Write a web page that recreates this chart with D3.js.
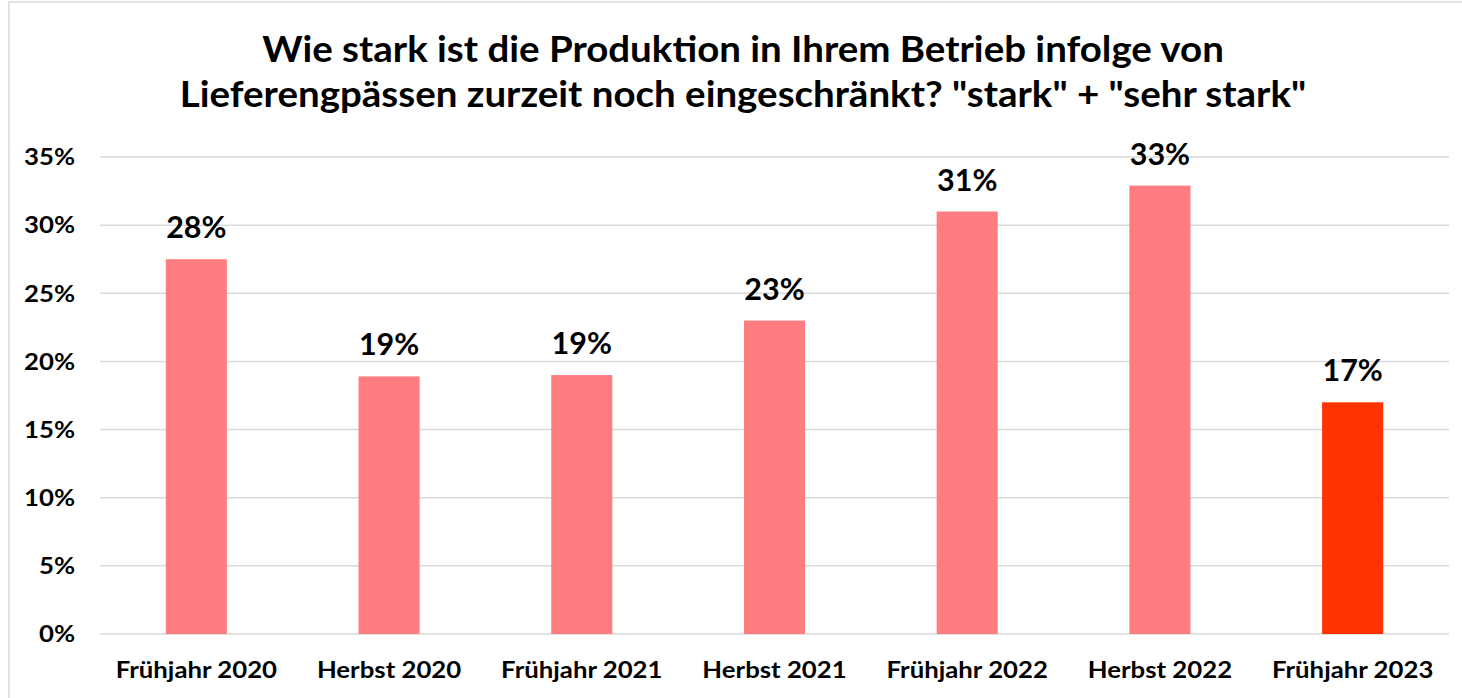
<!DOCTYPE html>
<html>
<head>
<meta charset="utf-8">
<script src="https://cdn.jsdelivr.net/npm/d3@7"></script>
<style>
  html, body { margin: 0; padding: 0; background: #fff; }
  svg { display: block; font-family: Lato, "Open Sans", sans-serif; }
</style>
</head>
<body>
<div id="chart"></div>
<script>
// survey waves and share answering "stark" + "sehr stark"
const categories = ['Frühjahr 2020', 'Herbst 2020', 'Frühjahr 2021', 'Herbst 2021',
  'Frühjahr 2022', 'Herbst 2022', 'Frühjahr 2023'];
const values = [27.5, 18.9, 19.0, 23.0, 31.0, 32.9, 17.0];
const valueLabels = ['28%', '19%', '19%', '23%', '31%', '33%', '17%'];
const yTicks = [0, 5, 10, 15, 20, 25, 30, 35];
const titleLines = [
  'Wie stark ist die Produktion in Ihrem Betrieb infolge von',
  'Lieferengpässen zurzeit noch eingeschränkt? "stark" + "sehr stark"',
];

const width = 1462;
const height = 698;
const margin = { top: 157, right: 13, bottom: 64, left: 100 };

const svg = d3.select('#chart').append('svg')
  .attr('width', width)
  .attr('height', height);

// the source font (Calibri) runs a bit wider than Lato, so stretch text horizontally
const place = (px, py, sx) => `translate(${px},${py}) scale(${sx},1)`;

// light frame of the chart area (only top/left edges are visible)
svg.append('rect')
  .attr('x', 9).attr('y', 2)
  .attr('width', width + 20).attr('height', height + 20)
  .attr('fill', 'none')
  .attr('stroke', '#d9d9d9')
  .attr('stroke-width', 1.5);

const x = d3.scaleBand()
  .domain(categories)
  .range([margin.left, width - margin.right])
  .paddingInner(0.683)
  .paddingOuter(0.3415);

const y = d3.scaleLinear()
  .domain([0, 35])
  .range([height - margin.bottom, margin.top]);

// gridlines
svg.append('g')
  .selectAll('line')
  .data(yTicks)
  .join('line')
  .attr('x1', margin.left)
  .attr('x2', width - margin.right)
  .attr('y1', d => y(d))
  .attr('y2', d => y(d))
  .attr('stroke', '#d9d9d9')
  .attr('stroke-width', 1.5);

// y tick labels
svg.append('g')
  .selectAll('text')
  .data(yTicks)
  .join('text')
  .attr('transform', d => place(75, y(d), 1.12))
  .attr('dy', '0.36em')
  .attr('text-anchor', 'end')
  .attr('font-size', 23)
  .attr('font-weight', 'bold')
  .attr('fill', '#000')
  .text(d => `${d}%`);

// bars
const data = categories.map((c, i) => ({ cat: c, value: values[i], label: valueLabels[i] }));
svg.append('g')
  .selectAll('rect')
  .data(data)
  .join('rect')
  .attr('x', d => x(d.cat))
  .attr('y', d => y(d.value))
  .attr('width', x.bandwidth())
  .attr('height', d => y(0) - y(d.value))
  .attr('fill', (d, i) => (i === data.length - 1 ? '#ff3300' : '#ff7c80'));

// value labels
svg.append('g')
  .selectAll('text')
  .data(data)
  .join('text')
  .attr('x', d => x(d.cat) + x.bandwidth() / 2)
  .attr('y', d => y(d.value) - 21)
  .attr('text-anchor', 'middle')
  .attr('font-size', 30.5)
  .attr('font-weight', 'bold')
  .attr('fill', '#000')
  .text(d => d.label);

// category labels
svg.append('g')
  .selectAll('text')
  .data(categories)
  .join('text')
  .attr('transform', d => place(x(d) + x.bandwidth() / 2, 678, 1.12))
  .attr('text-anchor', 'middle')
  .attr('font-size', 23)
  .attr('font-weight', 'bold')
  .attr('fill', '#000')
  .text(d => d);

// title
svg.append('g')
  .selectAll('text')
  .data(titleLines)
  .join('text')
  .attr('transform', (d, i) => place(743, 62 + i * 45, 1.04))
  .attr('text-anchor', 'middle')
  .attr('font-size', 37)
  .attr('font-weight', 'bold')
  .attr('fill', '#000')
  .text(d => d);
</script>
</body>
</html>
